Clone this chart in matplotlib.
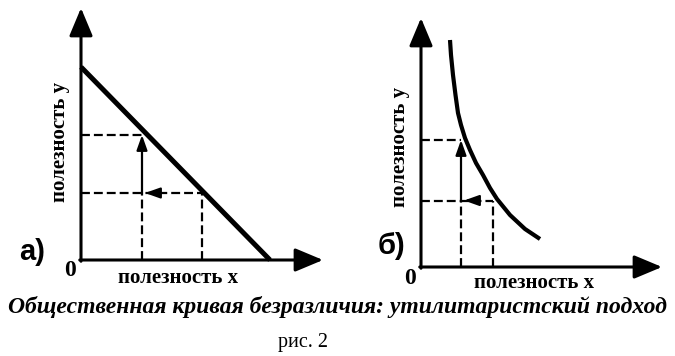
import matplotlib
matplotlib.use('Agg')
from matplotlib import pyplot as plt

# DATA (panel units, origin at the axes corner)
# panel a) - straight line
line_a_x = [0.0, 7.56]
line_a_y = [7.72, 0.0]
levels_a = {'x_hi': 2.44, 'x_lo': 4.84, 'y_hi': 5.0, 'y_lo': 2.68, 'tip': 2.56}

# panel б) - indifference curve
curve_b_x = [1.16, 1.20, 1.28, 1.38, 1.48, 1.60, 1.76, 1.96, 2.20, 2.48, 2.76, 3.04, 3.56, 4.16, 4.76]
curve_b_y = [9.08, 8.48, 7.68, 6.88, 6.16, 5.68, 5.16, 4.68, 4.16, 3.68, 3.16, 2.72, 2.08, 1.52, 1.12]
levels_b = {'x_hi': 1.6, 'x_lo': 2.88, 'y_hi': 5.08, 'y_lo': 2.66, 'tip': 1.72}

label_x = 'полезность х'
label_y = 'полезность у'
caption = 'Общественная кривая безразличия: утилитаристский подход'
fig_label = 'рис. 2'

SERIF = 'Liberation Serif'
SANS = 'Liberation Sans'
W, H = 675, 356
PX = 25.0  # pixels per unit

fig = plt.figure(figsize=(6.75, 3.56), dpi=100)


def make_panel(ox, oy, x_tip, y_tip):
    ax = fig.add_axes([0, 0, 1, 1])
    ax.set_xlim(-ox / PX, (W - ox) / PX)
    ax.set_ylim(-(H - oy) / PX, oy / PX)
    ax.axis('off')
    ax.patch.set_alpha(0)
    # axes with arrows
    big = dict(arrowstyle='-|>,head_length=0.86,head_width=0.36', lw=2.2, color='k',
               shrinkA=0, shrinkB=0, mutation_scale=20)
    ax.annotate('', xy=(x_tip, 0), xytext=(-0.05, 0), arrowprops=big)
    ax.annotate('', xy=(0, y_tip), xytext=(0, -0.05), arrowprops=big)
    return ax


def guides(ax, lv):
    dash = dict(color='k', lw=1.6, linestyle=(0, (4, 1.8)))
    small = dict(arrowstyle='-|>,head_length=0.9,head_width=0.32', lw=1.6, color='k',
                 shrinkA=0, shrinkB=0, mutation_scale=10)
    ax.plot([0, lv['x_hi']], [lv['y_hi'], lv['y_hi']], **dash)
    ax.plot([0, lv['x_lo']], [lv['y_lo'], lv['y_lo']], **dash)
    ax.plot([lv['x_hi'], lv['x_hi']], [0, lv['y_lo']], **dash)
    ax.plot([lv['x_lo'], lv['x_lo']], [0, lv['y_lo']], **dash)
    # solid upward arrow
    ax.annotate('', xy=(lv['x_hi'], lv['y_hi']), xytext=(lv['x_hi'], lv['y_lo']), arrowprops=small)
    # left arrow head on the dashed line
    ax.annotate('', xy=(lv['tip'], lv['y_lo']), xytext=(lv['tip'] + 0.55, lv['y_lo']), arrowprops=small)


def labels(ax, tag, tag_pos, zero_pos, xl_pos, yl_pos):
    ax.text(*tag_pos, tag, fontsize=21, fontweight='bold', family=SANS, ha='center', va='center')
    ax.text(*zero_pos, '0', fontsize=17, fontweight='bold', family=SERIF, ha='center', va='center')
    ax.text(*xl_pos, label_x, fontsize=15, fontweight='bold', family=SERIF, ha='center', va='center')
    ax.text(*yl_pos, label_y, fontsize=15, fontweight='bold', family=SERIF, ha='center', va='center',
            rotation=90)


# PANEL A
ax_a = make_panel(81, 260, 9.68, 10.08)
guides(ax_a, levels_a)
ax_a.plot(line_a_x, line_a_y, color='k', lw=3.6, solid_capstyle='butt')
labels(ax_a, 'а)', (-1.96, 0.32), (-0.44, -0.44), (3.88, -0.72), (-0.84, 4.72))

# PANEL B
ax_b = make_panel(421, 267, 9.64, 9.96)
guides(ax_b, levels_b)
ax_b.plot(curve_b_x, curve_b_y, color='k', lw=3.0, solid_capstyle='butt', solid_joinstyle='round')
labels(ax_b, 'б)', (-1.16, 0.84), (-0.44, -0.44), (4.52, -0.64), (-0.84, 4.8))

# CAPTIONS
fig.text(338 / W, 1 - 307 / H, caption, fontsize=17, fontweight='bold', fontstyle='italic',
         family=SERIF, ha='center', va='center')
fig.text(303 / W, 1 - 343 / H, fig_label, fontsize=14.5, family=SERIF, ha='center', va='center')

fig.savefig('out.png', dpi=100, facecolor='white')
